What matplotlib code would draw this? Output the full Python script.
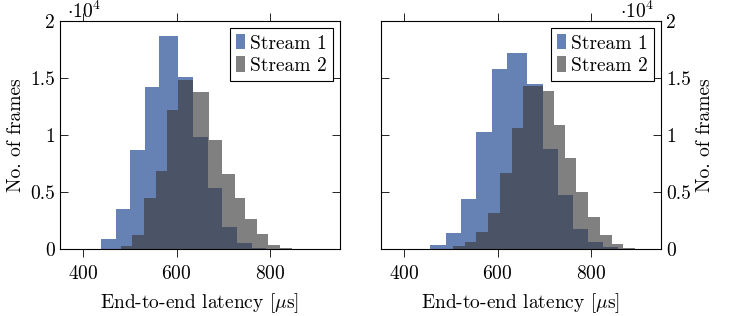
import matplotlib
matplotlib.use('Agg')
import matplotlib.pyplot as plt
import numpy as np
from matplotlib.ticker import FuncFormatter

plt.rcParams['font.family'] = ['cmr10', 'DejaVu Serif']
plt.rcParams['mathtext.fontset'] = 'cm'
plt.rcParams['axes.formatter.use_mathtext'] = True
plt.rcParams['font.size'] = 14

# histogram bins (latency in us, counts in frames)
left_s1_edges = [405.7, 437.9, 469.3, 500.7, 531.4, 562.9, 603.6, 635.7, 666.4, 697.9, 728.6, 760.7, 792.1]
left_s1_counts = [60, 900, 3550, 8730, 14180, 18690, 15120, 9800, 5390, 1980, 520, 120]
left_s2_edges = [480, 505, 530, 555.7, 580, 603.6, 635.7, 670, 696.4, 725, 746.4, 771.4, 796.4, 821.4, 846.4, 867.9]
left_s2_counts = [290, 1220, 4510, 6900, 12170, 14850, 13740, 9550, 6600, 4510, 2620, 1310, 420, 150, 60]

right_s1_edges = [455, 489.3, 521.4, 553.6, 587.2, 620.6, 662.2, 696.5, 730, 762.1, 794.2, 826.4, 858.5]
right_s1_counts = [370, 1400, 4400, 10300, 15800, 17200, 14500, 8800, 4800, 1800, 650, 200]
right_s2_edges = [505, 530, 553.6, 580, 605, 630, 653.6, 696.5, 720.7, 744.3, 767.9, 792.5, 819.3, 844.4, 869.2, 894.3]
right_s2_counts = [290, 670, 1490, 3150, 6650, 10600, 14300, 13840, 10920, 8000, 5000, 2850, 1250, 480, 150]

series_names = ["Stream 1", "Stream 2"]
xticks = [400, 600, 800]
yticks = [0, 5000, 10000, 15000, 20000]

blue = '#6682b5'
dark = '#3c3c3c'

fig = plt.figure(figsize=(7.34, 3.16), dpi=100)
ax1 = fig.add_axes([60 / 734, 66.7 / 316, 280 / 734, 228.3 / 316])
ax2 = fig.add_axes([381 / 734, 66.7 / 316, 280 / 734, 228.3 / 316])

panels = [
    (ax1, left_s1_edges, left_s1_counts, left_s2_edges, left_s2_counts, 'left'),
    (ax2, right_s1_edges, right_s1_counts, right_s2_edges, right_s2_counts, 'right'),
]

for ax, e1, c1, e2, c2, side in panels:
    ax.stairs(c1, e1, fill=True, color=blue, lw=0, label=series_names[0])
    ax.stairs(c2, e2, fill=True, color=dark, alpha=0.65, lw=0, label=series_names[1])
    ax.set_xlim(350, 950)
    ax.set_ylim(0, 20000)
    ax.set_xticks(xticks)
    ax.set_yticks(yticks)
    ax.yaxis.set_major_formatter(FuncFormatter(lambda v, p: '%g' % (v / 1e4)))
    ax.tick_params(axis='x', direction='out', top=True, bottom=True, length=6, width=0.6, pad=5)
    ax.tick_params(axis='y', direction='in', left=True, right=True, length=6, width=0.6)
    for s in ax.spines.values():
        s.set_linewidth(0.8)
    ax.set_xlabel(r'End-to-end latency [$\mu$s]', labelpad=6)
    ax.set_ylabel('No. of frames')
    leg = ax.legend(loc='upper right', fancybox=False, framealpha=1, edgecolor='black',
                    handlelength=0.47, handleheight=0.82, handletextpad=0.26,
                    borderpad=0.3, labelspacing=0.2, borderaxespad=0.38)
    leg.get_frame().set_linewidth(0.8)
    if side == 'left':
        ax.annotate(r'$\cdot10^4$', xy=(0, 1), xycoords='axes fraction',
                    xytext=(5, 2), textcoords='offset points', ha='left', va='baseline')
    else:
        ax.yaxis.tick_right()
        ax.tick_params(axis='y', direction='in', left=True, right=True)
        ax.yaxis.set_label_position('right')
        ax.annotate(r'$\cdot10^4$', xy=(1, 1), xycoords='axes fraction',
                    xytext=(-5, 2), textcoords='offset points', ha='right', va='baseline')

fig.savefig('out.png', dpi=100)
